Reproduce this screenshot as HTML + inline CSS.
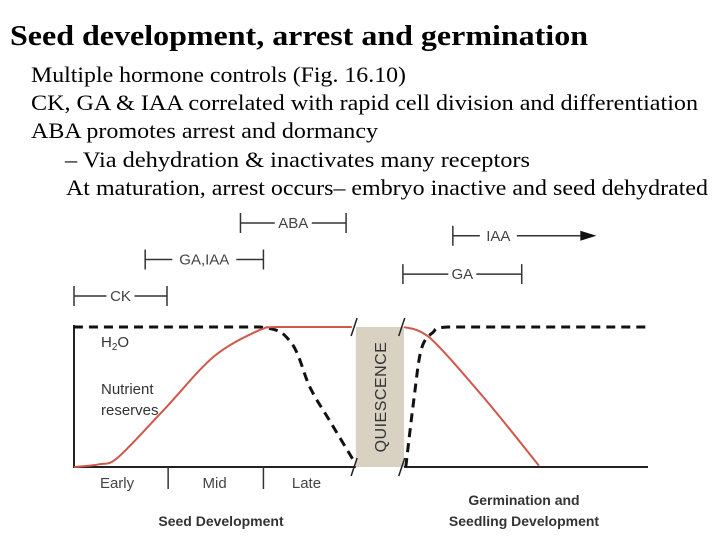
<!DOCTYPE html>
<html><head><meta charset="utf-8"><style>
html,body{margin:0;padding:0;background:#fff;}
svg{display:block;}
.serif{font-family:"Liberation Serif",serif;}
</style></head><body>
<svg id="chart" width="720" height="540" viewBox="0 0 720 540">
<text class="serif" x="10" y="45" font-size="29" font-weight="bold" textLength="578" lengthAdjust="spacingAndGlyphs">Seed development, arrest and germination</text>
<g class="serif" font-size="22" fill="#000">
<text x="31" y="82" textLength="375" lengthAdjust="spacingAndGlyphs">Multiple hormone controls (Fig. 16.10)</text>
<text x="31" y="110" textLength="667" lengthAdjust="spacingAndGlyphs">CK, GA &amp; IAA correlated with rapid cell division and differentiation</text>
<text x="31" y="138" textLength="347" lengthAdjust="spacingAndGlyphs">ABA promotes arrest and dormancy</text>
<text x="65" y="167" textLength="465" lengthAdjust="spacingAndGlyphs">–  Via dehydration &amp; inactivates many receptors</text>
<text x="66" y="195" textLength="642" lengthAdjust="spacingAndGlyphs">At maturation, arrest occurs– embryo inactive and seed dehydrated</text>
</g>
<g id="plot"></g>
</svg>
<script>
// time axis: 0..100 (pixel 74..648); value axis: 0..1 (pixel 467..327)
const nutrientT = [0, 4.5, 7.7, 15.7, 24.4, 32.4, 35, 48.4];
const nutrientV = [0, 0.02, 0.07, 0.41, 0.79, 0.98, 1, 1];
const nutrientT2 = [57.5, 61.8, 71.3, 81];
const nutrientV2 = [1, 0.93, 0.5, 0.01];
const waterT = [0, 16, 32.4, 37.8, 41.1, 44.4, 48.8];
const waterV = [1, 1, 1, 0.89, 0.57, 0.34, 0.04];
const waterT2 = [57.8, 59.2, 60.5, 62.5, 65.2, 80, 100];
const waterV2 = [0, 0.48, 0.84, 0.96, 1, 1, 1];
const hormoneNames = ["CK", "GA,IAA", "ABA", "GA", "IAA"];
const hormoneStart = [0, 12.4, 29, 57.3, 66];
const hormoneEnd = [16.2, 33, 47.4, 78, 91];
const hormoneRow = [0, 1, 2, 0.6, 1.65];
const stageNames = ["Early", "Mid", "Late"];
const stageCenter = [7.5, 24.5, 40.5];
const stageTicks = [16.4, 33];

const X0 = 74, X1 = 648, Y0 = 467, Y1 = 327;
const xs = t => X0 + (X1 - X0) * t / 100;
const ys = v => Y0 - (Y0 - Y1) * v;
const rowY = r => 296 - 36.5 * r;
const NS = "http://www.w3.org/2000/svg";
const plot = document.getElementById('plot');
function mk(tag, attrs, parent) {
  const e = document.createElementNS(NS, tag);
  for (const k in attrs) e.setAttribute(k, attrs[k]);
  (parent || plot).appendChild(e);
  return e;
}
function pathFrom(T, V) {
  const P = T.map((t, i) => [xs(t), ys(V[i])]);
  let d = 'M' + P[0][0] + ' ' + P[0][1];
  for (let i = 0; i < P.length - 1; i++) {
    const p0 = P[Math.max(i - 1, 0)], p1 = P[i], p2 = P[i + 1], p3 = P[Math.min(i + 2, P.length - 1)];
    let c1 = [p1[0] + (p2[0] - p0[0]) / 6, p1[1] + (p2[1] - p0[1]) / 6];
    let c2 = [p2[0] - (p3[0] - p1[0]) / 6, p2[1] - (p3[1] - p1[1]) / 6];
    c1[1] = Math.max(Y1, Math.min(Y0, c1[1]));
    c2[1] = Math.max(Y1, Math.min(Y0, c2[1]));
    d += ' C' + c1[0] + ' ' + c1[1] + ' ' + c2[0] + ' ' + c2[1] + ' ' + p2[0] + ' ' + p2[1];
  }
  return d;
}
// quiescence box
let q = mk('rect', {x: xs(49.1), y: Y1, width: xs(57.5) - xs(49.1), height: Y0 - Y1, fill: '#d9d2c3'});


let qt = mk('text', {x: 0, y: 0, transform: 'translate(' + (xs(53.3) + 6) + ',' + (Y0 + Y1) / 2 + ') rotate(-90)', 'text-anchor': 'middle', 'font-size': '16', 'font-family': 'Liberation Sans, sans-serif', fill: '#333', 'letter-spacing': '0.5'});
qt.textContent = 'QUIESCENCE';


// axes
let ax = mk('path', {d: 'M' + X0 + ' ' + (Y1 - 2) + ' L' + X0 + ' ' + Y0 + ' L' + xs(49.1) + ' ' + Y0 + ' M' + xs(57.5) + ' ' + Y0 + ' L' + X1 + ' ' + Y0, stroke: '#222', 'stroke-width': '2', fill: 'none'});


stageTicks.forEach(t => {
  const tk = mk('line', {x1: xs(t), x2: xs(t), y1: Y0, y2: Y0 + 22, stroke: '#333', 'stroke-width': '1.5'});
  
  
});
stageNames.forEach((s, i) => {
  const tx = mk('text', {x: xs(stageCenter[i]), y: Y0 + 21, 'text-anchor': 'middle', 'font-size': '15', 'font-family': 'Liberation Sans, sans-serif', fill: '#444'});
  tx.textContent = s;
  
  
});
// break marks
[48.8, 57.1].forEach(t => {
  [Y1, Y0].forEach(y => {
    const b = mk('line', {x1: xs(t) - 3, y1: y + 9, x2: xs(t) + 3, y2: y - 9, stroke: '#222', 'stroke-width': '1.5'});
    
    
  });
});
// water dashed
let w1 = mk('path', {d: pathFrom(waterT, waterV), stroke: '#111', 'stroke-width': '3', 'stroke-dasharray': '9 6', fill: 'none'});


let w2 = mk('path', {d: pathFrom(waterT2, waterV2), stroke: '#111', 'stroke-width': '3', 'stroke-dasharray': '9 6', fill: 'none'});


// nutrient red
let n1 = mk('path', {d: pathFrom(nutrientT, nutrientV), stroke: '#d0574a', 'stroke-width': '2', fill: 'none'});


let n2 = mk('path', {d: pathFrom(nutrientT2, nutrientV2), stroke: '#d0574a', 'stroke-width': '2', fill: 'none'});


// labels
const lab = (txt, x, y, name, size, weight, anchor) => {
  const t = mk('text', {x: x, y: y, 'font-size': size || 15, 'font-weight': weight || 'normal', 'text-anchor': anchor || 'start', 'font-family': 'Liberation Sans, sans-serif', fill: '#333'});
  t.textContent = txt;
  
  
  return t;
};
let h = lab('H', 101, 347, 'water-label');
let sub = mk('tspan', {'font-size': '10', dy: '3'}, h); sub.textContent = '2';
let o = mk('tspan', {dy: '-3'}, h); o.textContent = 'O';
lab('Nutrient', 101, 394, 'nutrient-label-1');
lab('reserves', 101, 415, 'nutrient-label-2');
lab('Seed Development', 221, 526, 'seed-development-label', 14, 'bold', 'middle');
lab('Germination and', 524, 505, 'germination-label-1', 14, 'bold', 'middle');
lab('Seedling Development', 524, 526, 'germination-label-2', 14, 'bold', 'middle');
// hormone ranges
hormoneNames.forEach((n, i) => {
  const x1 = xs(hormoneStart[i]), x2 = xs(hormoneEnd[i]), y = rowY(hormoneRow[i]);
  const g = mk('g', {});
  
  
  const tw = n.length * 9 + 4;
  const isArrow = n === 'IAA';
  const lx = isArrow ? x1 + 30 : (x1 + x2) / 2 - tw / 2;
  mk('line', {x1: x1, x2: lx - 3, y1: y, y2: y, stroke: '#333', 'stroke-width': '1.5'}, g);
  mk('line', {x1: lx + tw + 3, x2: isArrow ? x2 - 14 : x2, y1: y, y2: y, stroke: '#333', 'stroke-width': '1.5'}, g);
  mk('line', {x1: x1, x2: x1, y1: y - 10, y2: y + 10, stroke: '#333', 'stroke-width': '1.5'}, g);
  if (isArrow) mk('path', {d: 'M' + (x2 - 16) + ' ' + (y - 5) + ' L' + x2 + ' ' + y + ' L' + (x2 - 16) + ' ' + (y + 5) + 'Z', fill: '#111'}, g);
  else mk('line', {x1: x2, x2: x2, y1: y - 10, y2: y + 10, stroke: '#333', 'stroke-width': '1.5'}, g);
  const t = mk('text', {x: lx + tw / 2, y: y + 5, 'text-anchor': 'middle', 'font-size': '15', 'font-family': 'Liberation Sans, sans-serif', fill: '#444'}, g);
  t.textContent = n;
});
</script>
</body></html>
